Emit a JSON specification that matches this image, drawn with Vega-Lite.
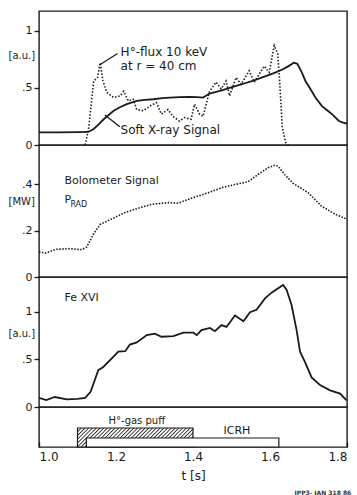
{
  "$schema": "https://vega.github.io/schema/vega-lite/v6.json",
  "padding": {"left": 7, "top": 10, "right": 5, "bottom": 2},
  "spacing": 0,
  "bounds": "flush",
  "background": "white",
  "title": {"text": "IPP3- JAN 318 86", "orient": "bottom", "anchor": "end", "fontSize": 6, "fontWeight": "bold", "color": "#333", "offset": 8},
  "config": {
    "view": {"stroke": "#1a1a1a", "strokeWidth": 1.4},
    "font": "DejaVu Sans",
    "axis": {"labelFont": "DejaVu Sans", "labelFontSize": 11, "labelColor": "#1a1a1a", "tickColor": "#1a1a1a", "tickWidth": 1.3, "grid": false, "domain": false, "titleFont": "DejaVu Sans", "titleFontWeight": "normal", "titleColor": "#1a1a1a", "titleFontSize": 10},
    "text": {"font": "DejaVu Sans", "color": "#1a1a1a"}
  },
  "datasets": {
    "softx": [
      {"t":1.0,"v":0.11},{"t":1.05,"v":0.11},{"t":1.1,"v":0.112},{"t":1.128,"v":0.114},{"t":1.142,"v":0.14},{"t":1.155,"v":0.18},{"t":1.168,"v":0.225},{"t":1.18,"v":0.26},{"t":1.194,"v":0.30},{"t":1.21,"v":0.33},{"t":1.228,"v":0.357},{"t":1.254,"v":0.386},{"t":1.275,"v":0.395},{"t":1.297,"v":0.40},{"t":1.32,"v":0.41},{"t":1.34,"v":0.415},{"t":1.365,"v":0.418},{"t":1.391,"v":0.42},{"t":1.41,"v":0.418},{"t":1.426,"v":0.415},{"t":1.443,"v":0.45},{"t":1.46,"v":0.465},{"t":1.477,"v":0.48},{"t":1.495,"v":0.50},{"t":1.512,"v":0.517},{"t":1.535,"v":0.54},{"t":1.555,"v":0.56},{"t":1.578,"v":0.59},{"t":1.598,"v":0.614},{"t":1.615,"v":0.635},{"t":1.632,"v":0.66},{"t":1.648,"v":0.69},{"t":1.662,"v":0.72},{"t":1.671,"v":0.71},{"t":1.682,"v":0.64},{"t":1.692,"v":0.56},{"t":1.705,"v":0.49},{"t":1.718,"v":0.415},{"t":1.735,"v":0.34},{"t":1.75,"v":0.30},{"t":1.761,"v":0.27},{"t":1.779,"v":0.21},{"t":1.79,"v":0.195},{"t":1.8,"v":0.187}
    ],
    "hflux": [
      {"t":1.12,"v":0},{"t":1.129,"v":0.15},{"t":1.142,"v":0.56},{"t":1.152,"v":0.59},{"t":1.159,"v":0.72},{"t":1.166,"v":0.56},{"t":1.176,"v":0.46},{"t":1.194,"v":0.415},{"t":1.211,"v":0.43},{"t":1.22,"v":0.47},{"t":1.232,"v":0.386},{"t":1.245,"v":0.40},{"t":1.254,"v":0.31},{"t":1.271,"v":0.30},{"t":1.288,"v":0.34},{"t":1.305,"v":0.37},{"t":1.318,"v":0.27},{"t":1.335,"v":0.31},{"t":1.348,"v":0.25},{"t":1.365,"v":0.21},{"t":1.378,"v":0.24},{"t":1.395,"v":0.225},{"t":1.404,"v":0.357},{"t":1.417,"v":0.27},{"t":1.426,"v":0.25},{"t":1.443,"v":0.47},{"t":1.46,"v":0.55},{"t":1.473,"v":0.49},{"t":1.486,"v":0.56},{"t":1.495,"v":0.43},{"t":1.512,"v":0.59},{"t":1.525,"v":0.53},{"t":1.546,"v":0.65},{"t":1.559,"v":0.55},{"t":1.572,"v":0.62},{"t":1.585,"v":0.69},{"t":1.598,"v":0.635},{"t":1.611,"v":0.87},{"t":1.62,"v":0.80},{"t":1.625,"v":0.56},{"t":1.632,"v":0.15},{"t":1.641,"v":0.02},{"t":1.648,"v":0}
    ],
    "bolo": [
      {"t":1.0,"v":0.108},{"t":1.017,"v":0.103},{"t":1.043,"v":0.119},{"t":1.078,"v":0.122},{"t":1.111,"v":0.118},{"t":1.124,"v":0.129},{"t":1.142,"v":0.186},{"t":1.159,"v":0.226},{"t":1.189,"v":0.25},{"t":1.224,"v":0.278},{"t":1.25,"v":0.292},{"t":1.293,"v":0.313},{"t":1.336,"v":0.32},{"t":1.362,"v":0.318},{"t":1.396,"v":0.339},{"t":1.44,"v":0.363},{"t":1.474,"v":0.384},{"t":1.509,"v":0.398},{"t":1.543,"v":0.41},{"t":1.569,"v":0.441},{"t":1.595,"v":0.47},{"t":1.612,"v":0.481},{"t":1.621,"v":0.477},{"t":1.638,"v":0.441},{"t":1.66,"v":0.403},{"t":1.699,"v":0.363},{"t":1.733,"v":0.306},{"t":1.768,"v":0.271},{"t":1.798,"v":0.25}
    ],
    "fe": [
      {"t":1.0,"v":0.095},{"t":1.019,"v":0.072},{"t":1.041,"v":0.105},{"t":1.072,"v":0.08},{"t":1.1,"v":0.085},{"t":1.12,"v":0.095},{"t":1.134,"v":0.16},{"t":1.154,"v":0.386},{"t":1.167,"v":0.42},{"t":1.184,"v":0.49},{"t":1.206,"v":0.58},{"t":1.224,"v":0.585},{"t":1.236,"v":0.655},{"t":1.254,"v":0.677},{"t":1.28,"v":0.754},{"t":1.301,"v":0.77},{"t":1.318,"v":0.737},{"t":1.349,"v":0.744},{"t":1.375,"v":0.78},{"t":1.401,"v":0.78},{"t":1.41,"v":0.754},{"t":1.422,"v":0.807},{"t":1.444,"v":0.83},{"t":1.457,"v":0.796},{"t":1.474,"v":0.86},{"t":1.487,"v":0.84},{"t":1.509,"v":0.96},{"t":1.531,"v":0.90},{"t":1.548,"v":0.995},{"t":1.565,"v":1.02},{"t":1.587,"v":1.14},{"t":1.604,"v":1.20},{"t":1.634,"v":1.28},{"t":1.643,"v":1.23},{"t":1.656,"v":1.07},{"t":1.669,"v":0.81},{"t":1.678,"v":0.58},{"t":1.691,"v":0.47},{"t":1.708,"v":0.31},{"t":1.73,"v":0.23},{"t":1.756,"v":0.175},{"t":1.782,"v":0.14},{"t":1.799,"v":0.07}
    ],
    "pulses": [
      {"name":"H°-gas puff","start":1.10,"end":1.40,"level":0.475},
      {"name":"ICRH","start":1.123,"end":1.623,"level":0.225}
    ]
  },
  "vconcat": [
    {
      "width": 308, "height": 134,
      "layer": [
        {"data": {"name": "softx"}, "mark": {"type": "line", "color": "#1a1a1a", "strokeWidth": 1.8},
         "encoding": {
           "x": {"field": "t", "type": "quantitative", "scale": {"domain": [1, 1.8], "nice": false}, "axis": null},
           "y": {"field": "v", "type": "quantitative", "scale": {"domain": [0, 1.172], "nice": false},
                 "axis": {"values": [0, 0.5, 1], "labelExpr": "datum.value == 0 ? '0' : datum.value == 1 ? '1' : '.' + round(datum.value*10)", "tickSize": 5, "labelPadding": 2, "title": "[a.u.]", "titleAngle": 0, "titleAlign": "left", "titleBaseline": "middle", "titleX": -31, "titleY": 44.5}}
         }},
        {"data": {"name": "hflux"}, "mark": {"type": "line", "color": "#1a1a1a", "strokeWidth": 1.6, "strokeDash": [1.5, 1.8]},
         "encoding": {"x": {"field": "t", "type": "quantitative"}, "y": {"field": "v", "type": "quantitative"}}},
        {"data": {"values": [{}]}, "mark": {"type": "rule", "color": "#1a1a1a", "strokeWidth": 1.3},
         "encoding": {"x": {"datum": 1.157}, "y": {"datum": 0.70}, "x2": {"datum": 1.204}, "y2": {"datum": 0.80}}},
        {"data": {"values": [{}]}, "mark": {"type": "rule", "color": "#1a1a1a", "strokeWidth": 1.3},
         "encoding": {"x": {"datum": 1.171}, "y": {"datum": 0.263}, "x2": {"datum": 1.21}, "y2": {"datum": 0.16}}},
        {"data": {"values": [{}]}, "mark": {"type": "text", "align": "left", "baseline": "middle", "fontSize": 12},
         "encoding": {"x": {"datum": 1.212}, "y": {"datum": 0.81}, "text": {"value": "H°-flux  10 keV"}}},
        {"data": {"values": [{}]}, "mark": {"type": "text", "align": "left", "baseline": "middle", "fontSize": 12},
         "encoding": {"x": {"datum": 1.212}, "y": {"datum": 0.69}, "text": {"value": "at r = 40 cm"}}},
        {"data": {"values": [{}]}, "mark": {"type": "text", "align": "left", "baseline": "middle", "fontSize": 12},
         "encoding": {"x": {"datum": 1.212}, "y": {"datum": 0.13}, "text": {"value": "Soft X-ray Signal"}}}
      ]
    },
    {
      "width": 308, "height": 132,
      "layer": [
        {"data": {"name": "bolo"}, "mark": {"type": "line", "color": "#1a1a1a", "strokeWidth": 1.6, "strokeDash": [1.5, 1.5]},
         "encoding": {
           "x": {"field": "t", "type": "quantitative", "scale": {"domain": [1, 1.8], "nice": false}, "axis": null},
           "y": {"field": "v", "type": "quantitative", "scale": {"domain": [0, 0.568], "nice": false},
                 "axis": {"values": [0, 0.1, 0.2, 0.3, 0.4, 0.5], "labelExpr": "datum.value == 0 ? '0' : (round(datum.value*10) % 2 == 0 ? '.' + round(datum.value*10) : '')", "tickSize": 5, "labelPadding": 2, "title": "[MW]", "titleAngle": 0, "titleAlign": "left", "titleBaseline": "middle", "titleX": -31, "titleY": 56.7}}
         }},
        {"data": {"values": [{}]}, "mark": {"type": "text", "align": "left", "baseline": "middle", "fontSize": 11},
         "encoding": {"x": {"datum": 1.066}, "y": {"datum": 0.415}, "text": {"value": "Bolometer Signal"}}},
        {"data": {"values": [{}]}, "mark": {"type": "text", "align": "left", "baseline": "middle", "fontSize": 11},
         "encoding": {"x": {"datum": 1.066}, "y": {"datum": 0.33}, "text": {"value": "P"}}},
        {"data": {"values": [{}]}, "mark": {"type": "text", "align": "left", "baseline": "middle", "fontSize": 8},
         "encoding": {"x": {"datum": 1.0815}, "y": {"datum": 0.31}, "text": {"value": "RAD"}}}
      ]
    },
    {
      "width": 308, "height": 130,
      "layer": [
        {"data": {"name": "fe"}, "mark": {"type": "line", "color": "#1a1a1a", "strokeWidth": 1.8},
         "encoding": {
           "x": {"field": "t", "type": "quantitative", "scale": {"domain": [1, 1.8], "nice": false}, "axis": null},
           "y": {"field": "v", "type": "quantitative", "scale": {"domain": [0, 1.364], "nice": false},
                 "axis": {"values": [0, 0.5, 1], "labelExpr": "datum.value == 0 ? '0' : datum.value == 1 ? '1' : '.' + round(datum.value*10)", "tickSize": 5, "labelPadding": 2, "title": "[a.u.]", "titleAngle": 0, "titleAlign": "left", "titleBaseline": "middle", "titleX": -31, "titleY": 56.5}}
         }},
        {"data": {"values": [{}]}, "mark": {"type": "text", "align": "left", "baseline": "middle", "fontSize": 11},
         "encoding": {"x": {"datum": 1.066}, "y": {"datum": 1.147}, "text": {"value": "Fe XVI"}}}
      ]
    },
    {
      "width": 308, "height": 40,
      "layer": [
        {"data": {"name": "pulses"}, "transform": [{"filter": "datum.name == 'H°-gas puff'"}],
         "mark": {"type": "rect", "stroke": "#1a1a1a", "strokeWidth": 1.2,
           "fill": {"gradient": "linear", "x1": 0, "y1": 0, "x2": 1.14, "y2": 0.1875, "stops": [
{"offset":0,"color":"#222"},{"offset":0.009,"color":"#fff"},{"offset":0.019,"color":"#fff"},
{"offset":0.0278,"color":"#222"},{"offset":0.0368,"color":"#fff"},{"offset":0.0468,"color":"#fff"},
{"offset":0.0556,"color":"#222"},{"offset":0.0646,"color":"#fff"},{"offset":0.0746,"color":"#fff"},
{"offset":0.0833,"color":"#222"},{"offset":0.0923,"color":"#fff"},{"offset":0.1023,"color":"#fff"},
{"offset":0.1111,"color":"#222"},{"offset":0.1201,"color":"#fff"},{"offset":0.1301,"color":"#fff"},
{"offset":0.1389,"color":"#222"},{"offset":0.1479,"color":"#fff"},{"offset":0.1579,"color":"#fff"},
{"offset":0.1667,"color":"#222"},{"offset":0.1757,"color":"#fff"},{"offset":0.1857,"color":"#fff"},
{"offset":0.1944,"color":"#222"},{"offset":0.2034,"color":"#fff"},{"offset":0.2134,"color":"#fff"},
{"offset":0.2222,"color":"#222"},{"offset":0.2312,"color":"#fff"},{"offset":0.2412,"color":"#fff"},
{"offset":0.25,"color":"#222"},{"offset":0.259,"color":"#fff"},{"offset":0.269,"color":"#fff"},
{"offset":0.2778,"color":"#222"},{"offset":0.2868,"color":"#fff"},{"offset":0.2968,"color":"#fff"},
{"offset":0.3056,"color":"#222"},{"offset":0.3146,"color":"#fff"},{"offset":0.3246,"color":"#fff"},
{"offset":0.3333,"color":"#222"},{"offset":0.3423,"color":"#fff"},{"offset":0.3523,"color":"#fff"},
{"offset":0.3611,"color":"#222"},{"offset":0.3701,"color":"#fff"},{"offset":0.3801,"color":"#fff"},
{"offset":0.3889,"color":"#222"},{"offset":0.3979,"color":"#fff"},{"offset":0.4079,"color":"#fff"},
{"offset":0.4167,"color":"#222"},{"offset":0.4257,"color":"#fff"},{"offset":0.4357,"color":"#fff"},
{"offset":0.4444,"color":"#222"},{"offset":0.4534,"color":"#fff"},{"offset":0.4634,"color":"#fff"},
{"offset":0.4722,"color":"#222"},{"offset":0.4812,"color":"#fff"},{"offset":0.4912,"color":"#fff"},
{"offset":0.5,"color":"#222"},{"offset":0.509,"color":"#fff"},{"offset":0.519,"color":"#fff"},
{"offset":0.5278,"color":"#222"},{"offset":0.5368,"color":"#fff"},{"offset":0.5468,"color":"#fff"},
{"offset":0.5556,"color":"#222"},{"offset":0.5646,"color":"#fff"},{"offset":0.5746,"color":"#fff"},
{"offset":0.5833,"color":"#222"},{"offset":0.5923,"color":"#fff"},{"offset":0.6023,"color":"#fff"},
{"offset":0.6111,"color":"#222"},{"offset":0.6201,"color":"#fff"},{"offset":0.6301,"color":"#fff"},
{"offset":0.6389,"color":"#222"},{"offset":0.6479,"color":"#fff"},{"offset":0.6579,"color":"#fff"},
{"offset":0.6667,"color":"#222"},{"offset":0.6757,"color":"#fff"},{"offset":0.6857,"color":"#fff"},
{"offset":0.6944,"color":"#222"},{"offset":0.7034,"color":"#fff"},{"offset":0.7134,"color":"#fff"},
{"offset":0.7222,"color":"#222"},{"offset":0.7312,"color":"#fff"},{"offset":0.7412,"color":"#fff"},
{"offset":0.75,"color":"#222"},{"offset":0.759,"color":"#fff"},{"offset":0.769,"color":"#fff"},
{"offset":0.7778,"color":"#222"},{"offset":0.7868,"color":"#fff"},{"offset":0.7968,"color":"#fff"},
{"offset":0.8056,"color":"#222"},{"offset":0.8146,"color":"#fff"},{"offset":0.8246,"color":"#fff"},
{"offset":0.8333,"color":"#222"},{"offset":0.8423,"color":"#fff"},{"offset":0.8523,"color":"#fff"},
{"offset":0.8611,"color":"#222"},{"offset":0.8701,"color":"#fff"},{"offset":0.8801,"color":"#fff"},
{"offset":0.8889,"color":"#222"},{"offset":0.8979,"color":"#fff"},{"offset":0.9079,"color":"#fff"},
{"offset":0.9167,"color":"#222"},{"offset":0.9257,"color":"#fff"},{"offset":0.9357,"color":"#fff"},
{"offset":0.9444,"color":"#222"},{"offset":0.9534,"color":"#fff"},{"offset":0.9634,"color":"#fff"},
{"offset":0.9722,"color":"#222"},{"offset":0.9812,"color":"#fff"},{"offset":0.9912,"color":"#fff"},
{"offset":1,"color":"#222"}
           ]}},
         "encoding": {
           "x": {"field": "start", "type": "quantitative", "scale": {"domain": [1, 1.8], "nice": false},
                 "axis": {"values": [1, 1.1, 1.2, 1.3, 1.4, 1.5, 1.6, 1.7, 1.8], "labelExpr": "round(datum.value*10) % 2 == 0 ? format(datum.value, '.1f') : ''", "tickSize": -5, "labelPadding": 9, "labelFontSize": 12, "title": "t [s]", "titleFontSize": 12, "titlePadding": 8}},
           "x2": {"field": "end"},
           "y": {"field": "level", "type": "quantitative", "scale": {"domain": [0, 1], "nice": false}, "axis": null},
           "y2": {"datum": 0}
         }},
        {"data": {"name": "pulses"}, "transform": [{"filter": "datum.name == 'ICRH'"}],
         "mark": {"type": "rect", "stroke": "#1a1a1a", "strokeWidth": 1.2, "fill": "white"},
         "encoding": {"x": {"field": "start", "type": "quantitative"}, "x2": {"field": "end"}, "y": {"field": "level", "type": "quantitative"}, "y2": {"datum": 0}}},
        {"data": {"values": [{}]}, "mark": {"type": "text", "align": "center", "baseline": "middle", "fontSize": 10},
         "encoding": {"x": {"datum": 1.254}, "y": {"datum": 0.655}, "text": {"value": "H°-gas puff"}}},
        {"data": {"values": [{}]}, "mark": {"type": "text", "align": "center", "baseline": "middle", "fontSize": 11},
         "encoding": {"x": {"datum": 1.514}, "y": {"datum": 0.39}, "text": {"value": "ICRH"}}}
      ]
    }
  ]
}
